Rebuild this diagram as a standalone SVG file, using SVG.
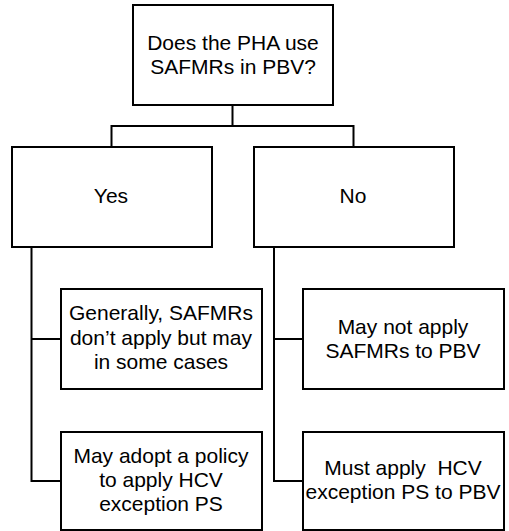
<svg xmlns="http://www.w3.org/2000/svg" width="509" height="531" viewBox="0 0 509 531">
<style>
.box{fill:#fff;stroke:#000;stroke-width:2}
.ln{fill:none;stroke:#000;stroke-width:2}
text{font-family:"Liberation Sans",Arial,sans-serif;font-size:21px;fill:#000;text-anchor:middle}
</style>
<rect width="509" height="531" fill="#fff"/>
<g id="connectors">
<path class="ln" d="M232.5,105 V126 M111.5,126 H353.5 M111.5,125 V147 M353.5,125 V147"/>
<path class="ln" d="M31.5,247 V481 H61 M31.5,339 H61"/>
<path class="ln" d="M274,247 V481 H303 M274,339 H303"/>
</g>
<g id="q">
<rect class="box" x="133" y="5" width="200" height="100"/>
<text x="233" y="50">Does the PHA use</text>
<text x="233" y="74">SAFMRs in PBV?</text>
</g>
<g id="yes">
<rect class="box" x="12" y="147" width="200" height="100"/>
<text x="111" y="203">Yes</text>
</g>
<g id="no">
<rect class="box" x="254" y="147" width="200" height="100"/>
<text x="353" y="203">No</text>
</g>
<g id="yes1">
<rect class="box" x="61" y="289" width="201" height="100"/>
<text x="161" y="320">Generally, SAFMRs</text>
<text x="161" y="345">don’t apply but may</text>
<text x="161" y="369">in some cases</text>
</g>
<g id="yes2">
<rect class="box" x="61" y="432" width="201" height="98"/>
<text x="161" y="463">May adopt a policy</text>
<text x="161" y="487">to apply HCV</text>
<text x="161" y="511">exception PS</text>
</g>
<g id="no1">
<rect class="box" x="303" y="289" width="201" height="100"/>
<text x="403" y="334">May not apply</text>
<text x="403" y="358">SAFMRs to PBV</text>
</g>
<g id="no2">
<rect class="box" x="303" y="432" width="201" height="98"/>
<text x="403" y="475" xml:space="preserve">Must apply  HCV</text>
<text x="403" y="499">exception PS to PBV</text>
</g>
</svg>
